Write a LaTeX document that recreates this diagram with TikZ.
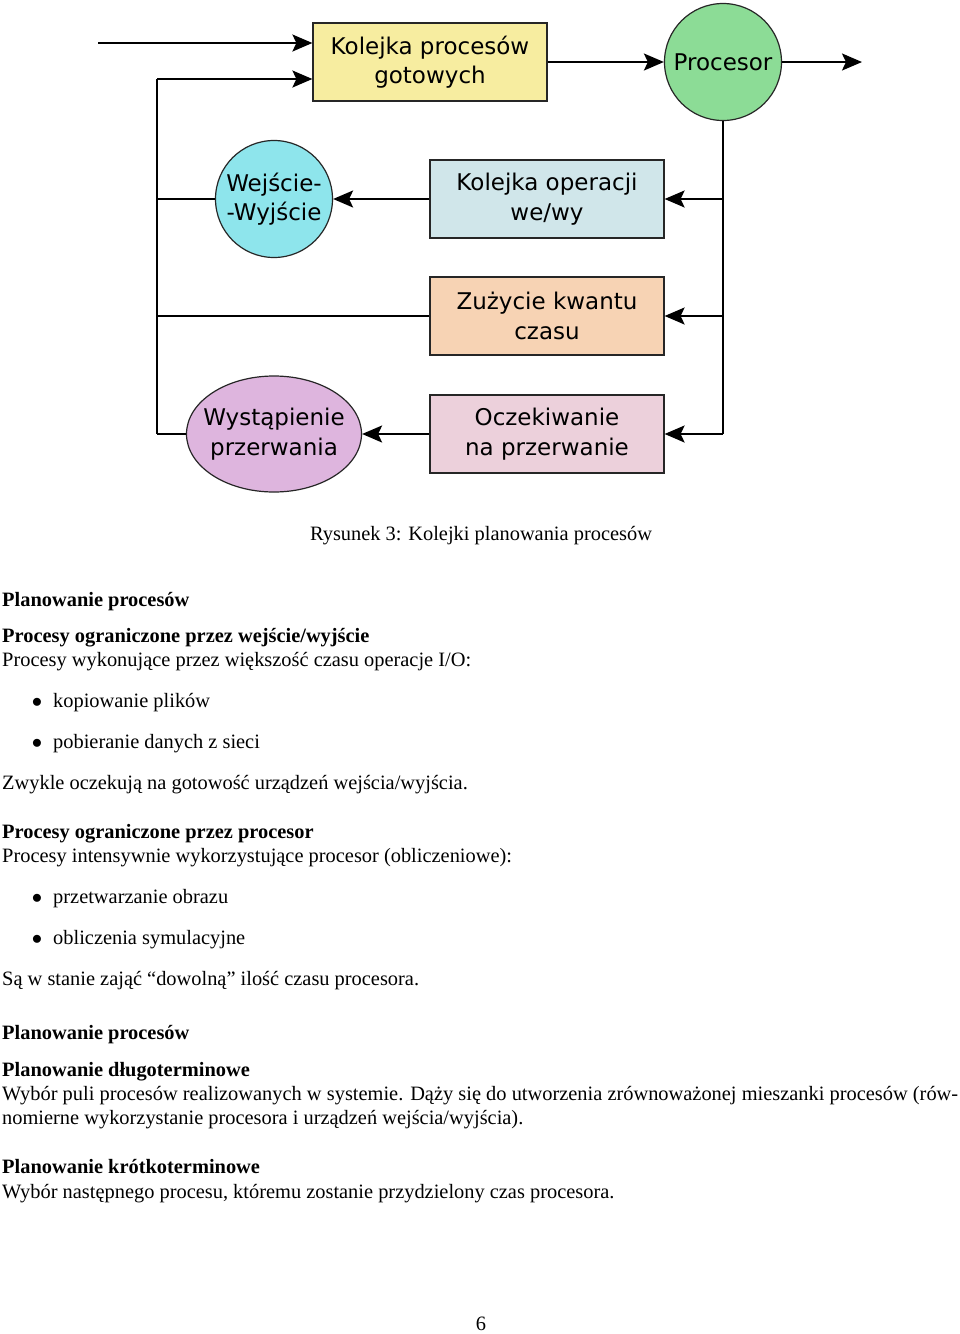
\documentclass[tikz,border=0pt]{standalone}
\usepackage{fontspec}
\setmainfont{Liberation Serif}
\newfontfamily\dejavu{DejaVu Sans}
\usetikzlibrary{arrows.meta,shapes.geometric}
\definecolor{cyel}{HTML}{F7EDA0}
\definecolor{cgreen}{HTML}{8CDC96}
\definecolor{ccyan}{HTML}{8EE5EC}
\definecolor{cblue}{HTML}{D0E6EA}
\definecolor{corange}{HTML}{F7D3B4}
\definecolor{cpink}{HTML}{ECD0DB}
\definecolor{cviolet}{HTML}{DEB5DE}
\tikzset{
  dnode/.style={draw=black!85, line width=1.2pt, align=center, inner sep=0pt,
    font=\dejavu\fontsize{23}{29.5}\selectfont},
  qbox/.style={dnode, rectangle, minimum width=234pt, minimum height=78pt},
  qcirc/.style={dnode, circle, minimum size=117pt},
  qell/.style={dnode, ellipse, inner xsep=-10pt, inner ysep=0pt, minimum width=175pt, minimum height=116pt},
  conn/.style={line width=1.9pt, black},
  arr/.style={conn, -{Stealth[length=20pt,width=17pt,inset=4pt]}},
  txt/.style={anchor=base west, inner sep=0pt, font=\fontsize{20.4}{24.5}\selectfont},
  btxt/.style={txt, font=\fontsize{20.4}{24.5}\selectfont\bfseries},
  bul/.style={anchor=base, inner sep=0pt, font=\fontsize{20.4}{24.5}\selectfont}
}
\begin{document}
\begin{tikzpicture}[x=1pt,y=-1pt]
\useasboundingbox[fill=white] (0,0) rectangle (960,1334);
% nodes
\node[qbox, fill=cyel] (kolejka) at (430,62) {Kolejka procesów\\gotowych};
\node[qcirc, fill=cgreen] (proc) at (723,62) {Procesor};
\node[qcirc, fill=ccyan] (wewy) at (274,199) {Wejście-\\-Wyjście};
\node[qbox, fill=cblue] (kop) at (547,199) {Kolejka operacji\\we/wy};
\node[qbox, fill=corange] (kwant) at (547,316) {Zużycie kwantu\\czasu};
\node[qbox, fill=cpink] (ocz) at (547,434) {Oczekiwanie\\na przerwanie};
\node[qell, fill=cviolet] (przer) at (274,434) {Wystąpienie\\przerwania};
% coordinates
\coordinate (in) at (98,43);
\coordinate (fb) at (157,79);
\coordinate (fbb) at (157,434);
\coordinate (out) at (862,62);
\coordinate (rb) at (723,434);
% connectors
\draw[arr] (in) -- (in -| kolejka.west);
\draw[arr] (fb) -- (fb -| kolejka.west);
\draw[conn] (fb) -- (fbb);
\draw[arr] (kolejka) -- (proc);
\draw[arr] (proc) -- (out);
\draw[conn] (proc.south) -- (rb);
\draw[arr] (rb |- kop.east) -- (kop.east);
\draw[arr] (kop) -- (wewy);
\draw[conn] (wewy.west) -- (wewy -| fb);
\draw[arr] (rb |- kwant.east) -- (kwant.east);
\draw[conn] (kwant.west) -- (kwant -| fb);
\draw[arr] (rb) -- (ocz.east);
\draw[arr] (ocz) -- (przer);
\draw[conn] (przer.west) -- (fbb);
% caption
\node[bul] (cap) at (481,540) {Rysunek 3: Kolejki planowania procesów};
% text
\node[btxt] (t1) at (2,606) {Planowanie procesów};
\node[btxt] (t2) at (2,642) {Procesy ograniczone przez wejście/wyjście};
\node[txt] (t3) at (2,666) {Procesy wykonujące przez większość czasu operacje I/O:};
\node[bul] (b1) at (37,707) {$\bullet$};
\node[txt] (t4) at (53,707) {kopiowanie plików};
\node[bul] (b2) at (37,748) {$\bullet$};
\node[txt] (t5) at (53,748) {pobieranie danych z sieci};
\node[txt] (t6) at (2,789) {Zwykle oczekują na gotowość urządzeń wejścia/wyjścia.};
\node[btxt] (t7) at (2,838) {Procesy ograniczone przez procesor};
\node[txt] (t8) at (2,862) {Procesy intensywnie wykorzystujące procesor (obliczeniowe):};
\node[bul] (b3) at (37,903) {$\bullet$};
\node[txt] (t9) at (53,903) {przetwarzanie obrazu};
\node[bul] (b4) at (37,944) {$\bullet$};
\node[txt] (t10) at (53,944) {obliczenia symulacyjne};
\node[txt] (t11) at (2,985) {Są w stanie zająć “dowolną” ilość czasu procesora.};
\node[btxt] (t12) at (2,1039) {Planowanie procesów};
\node[btxt] (t13) at (2,1076) {Planowanie długoterminowe};
\node[txt] (t14) at (2,1100) {\makebox[956pt][s]{Wybór puli procesów realizowanych w systemie. Dąży się do utworzenia zrównoważonej mieszanki procesów (rów-}};
\node[txt] (t15) at (2,1124) {nomierne wykorzystanie procesora i urządzeń wejścia/wyjścia).};
\node[btxt] (t16) at (2,1173) {Planowanie krótkoterminowe};
\node[txt] (t17) at (2,1198) {Wybór następnego procesu, któremu zostanie przydzielony czas procesora.};
\node[bul] (pg) at (481,1330) {6};
\end{tikzpicture}
\end{document}
